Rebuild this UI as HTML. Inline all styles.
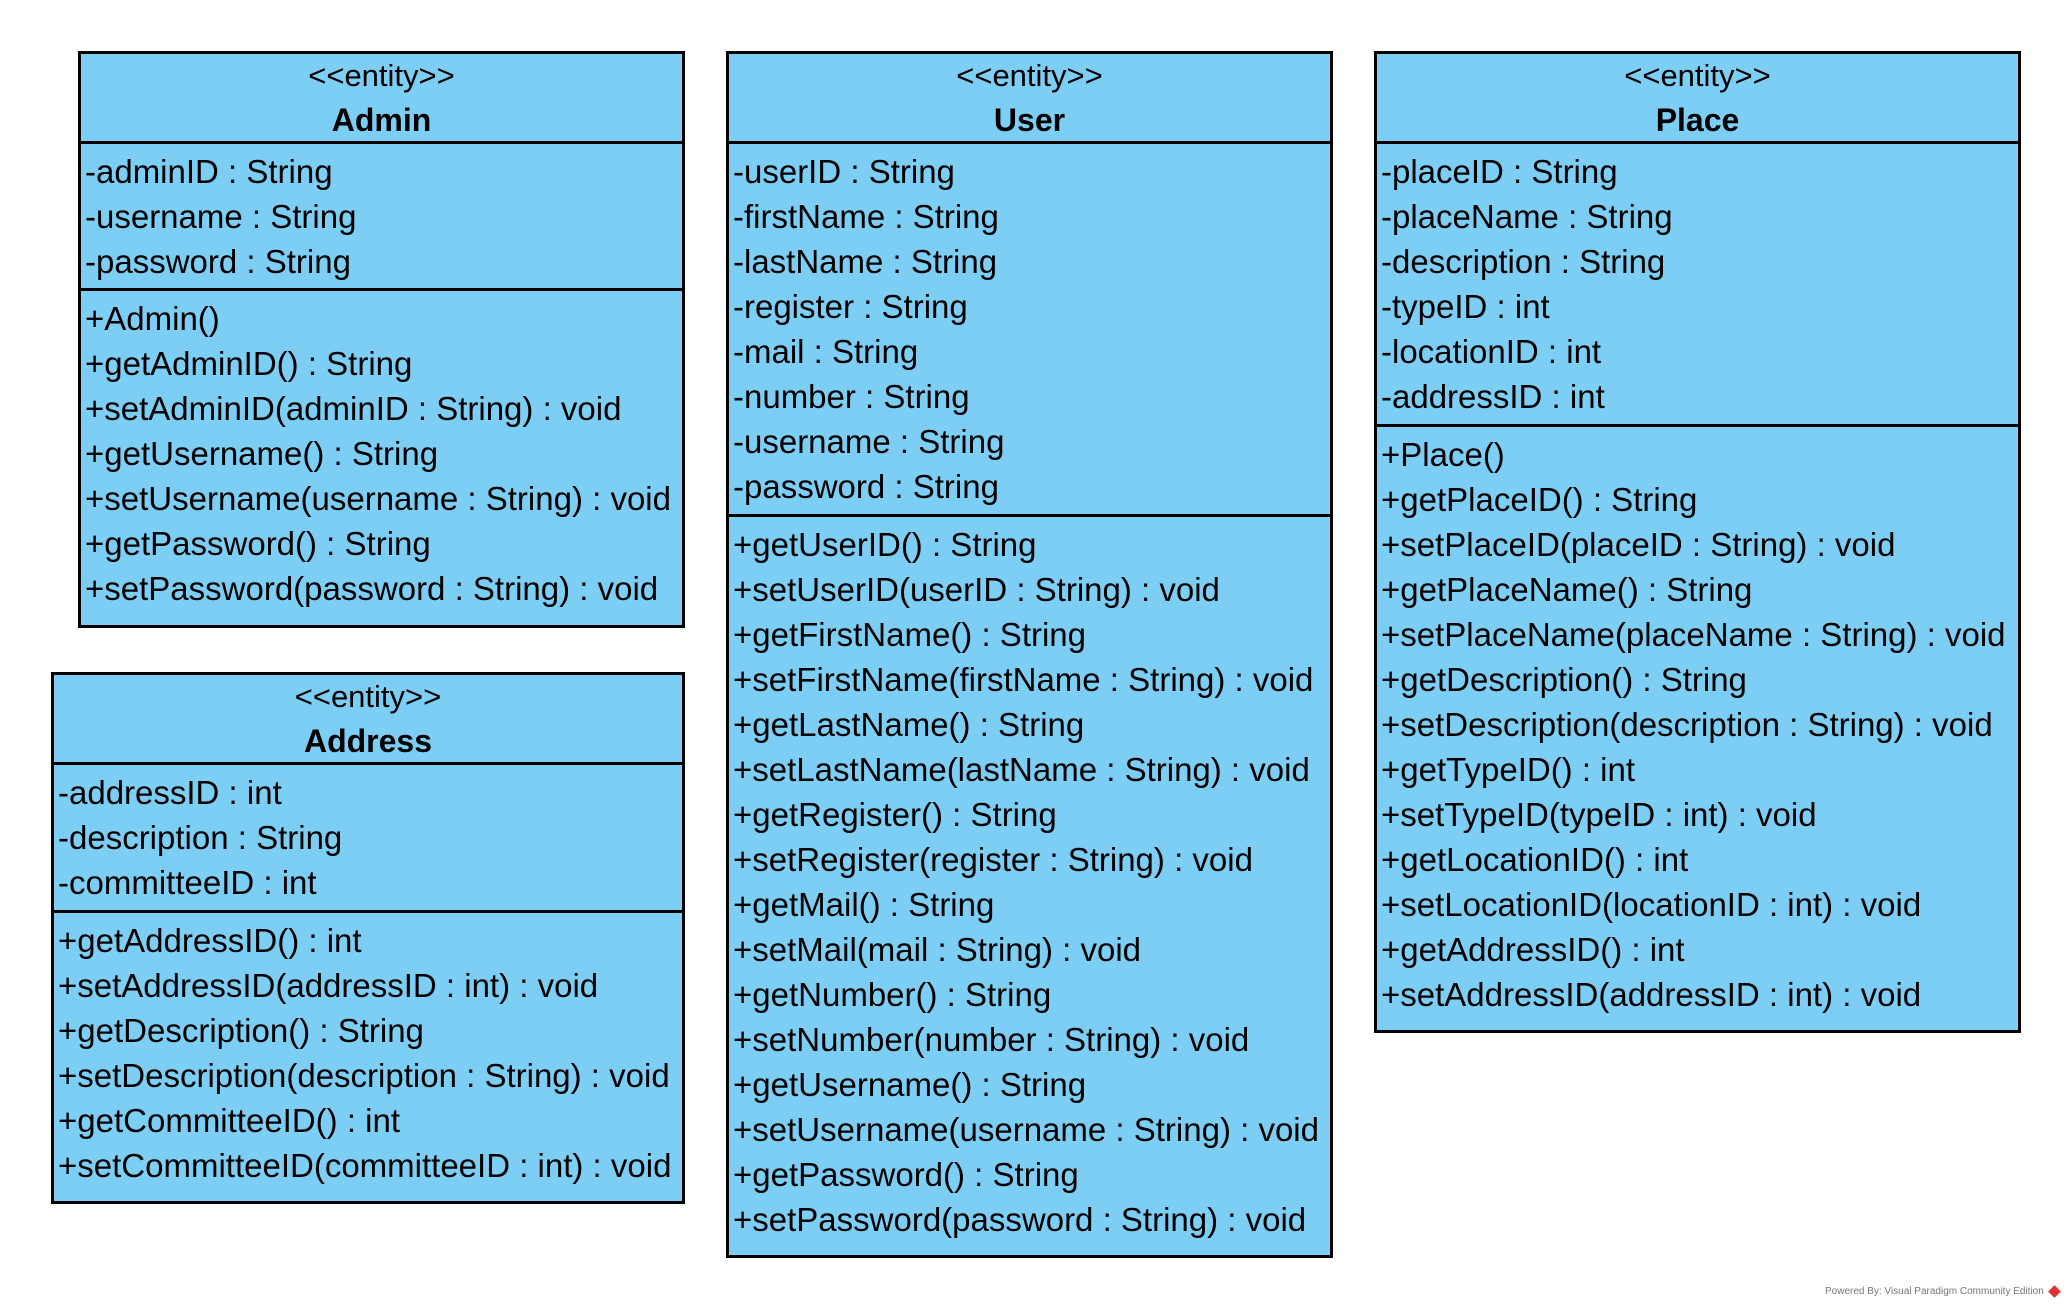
<!DOCTYPE html>
<html><head><meta charset="utf-8"><style>
body{margin:0;width:2070px;height:1308px;background:#fff;position:relative;overflow:hidden;font-family:"Liberation Sans",Arial,sans-serif;}
.box{position:absolute;background:#7ccef4;border:3px solid #000;box-sizing:border-box;}
.hd{position:absolute;left:0;right:0;top:0;text-align:center;font-size:31px;line-height:44px;padding-top:0px;border-bottom:3px solid #000;box-sizing:border-box;}
.hd b{font-size:32px;}
.sec{position:absolute;left:0;right:0;box-sizing:border-box;padding:5px 0 0 4px;font-size:33px;line-height:45px;white-space:nowrap;}
.sec.a{border-bottom:3px solid #000;}
</style></head><body>

<div class="box" style="left:78px;top:51px;width:607px;height:577px">
<div class="hd" style="height:90px">&lt;&lt;entity&gt;&gt;<br><b>Admin</b></div>
<div class="sec a" style="top:90px;height:147px">-adminID : String<br>-username : String<br>-password : String</div>
<div class="sec" style="top:237px">+Admin()<br>+getAdminID() : String<br>+setAdminID(adminID : String) : void<br>+getUsername() : String<br>+setUsername(username : String) : void<br>+getPassword() : String<br>+setPassword(password : String) : void</div>
</div>

<div class="box" style="left:51px;top:672px;width:634px;height:532px">
<div class="hd" style="height:90px">&lt;&lt;entity&gt;&gt;<br><b>Address</b></div>
<div class="sec a" style="top:90px;height:148px">-addressID : int<br>-description : String<br>-committeeID : int</div>
<div class="sec" style="top:238px">+getAddressID() : int<br>+setAddressID(addressID : int) : void<br>+getDescription() : String<br>+setDescription(description : String) : void<br>+getCommitteeID() : int<br>+setCommitteeID(committeeID : int) : void</div>
</div>

<div class="box" style="left:726px;top:51px;width:607px;height:1207px">
<div class="hd" style="height:90px">&lt;&lt;entity&gt;&gt;<br><b>User</b></div>
<div class="sec a" style="top:90px;height:373px">-userID : String<br>-firstName : String<br>-lastName : String<br>-register : String<br>-mail : String<br>-number : String<br>-username : String<br>-password : String</div>
<div class="sec" style="top:463px">+getUserID() : String<br>+setUserID(userID : String) : void<br>+getFirstName() : String<br>+setFirstName(firstName : String) : void<br>+getLastName() : String<br>+setLastName(lastName : String) : void<br>+getRegister() : String<br>+setRegister(register : String) : void<br>+getMail() : String<br>+setMail(mail : String) : void<br>+getNumber() : String<br>+setNumber(number : String) : void<br>+getUsername() : String<br>+setUsername(username : String) : void<br>+getPassword() : String<br>+setPassword(password : String) : void</div>
</div>

<div class="box" style="left:1374px;top:51px;width:647px;height:982px">
<div class="hd" style="height:90px">&lt;&lt;entity&gt;&gt;<br><b>Place</b></div>
<div class="sec a" style="top:90px;height:283px">-placeID : String<br>-placeName : String<br>-description : String<br>-typeID : int<br>-locationID : int<br>-addressID : int</div>
<div class="sec" style="top:373px">+Place()<br>+getPlaceID() : String<br>+setPlaceID(placeID : String) : void<br>+getPlaceName() : String<br>+setPlaceName(placeName : String) : void<br>+getDescription() : String<br>+setDescription(description : String) : void<br>+getTypeID() : int<br>+setTypeID(typeID : int) : void<br>+getLocationID() : int<br>+setLocationID(locationID : int) : void<br>+getAddressID() : int<br>+setAddressID(addressID : int) : void</div>
</div>

<div style="position:absolute;left:1825px;top:1286px;font-size:10px;color:#777;white-space:nowrap">Powered By: Visual Paradigm Community Edition</div>
<div style="position:absolute;left:2050px;top:1287px;width:9px;height:9px;background:#d33;transform:rotate(45deg)"></div>
</body></html>
